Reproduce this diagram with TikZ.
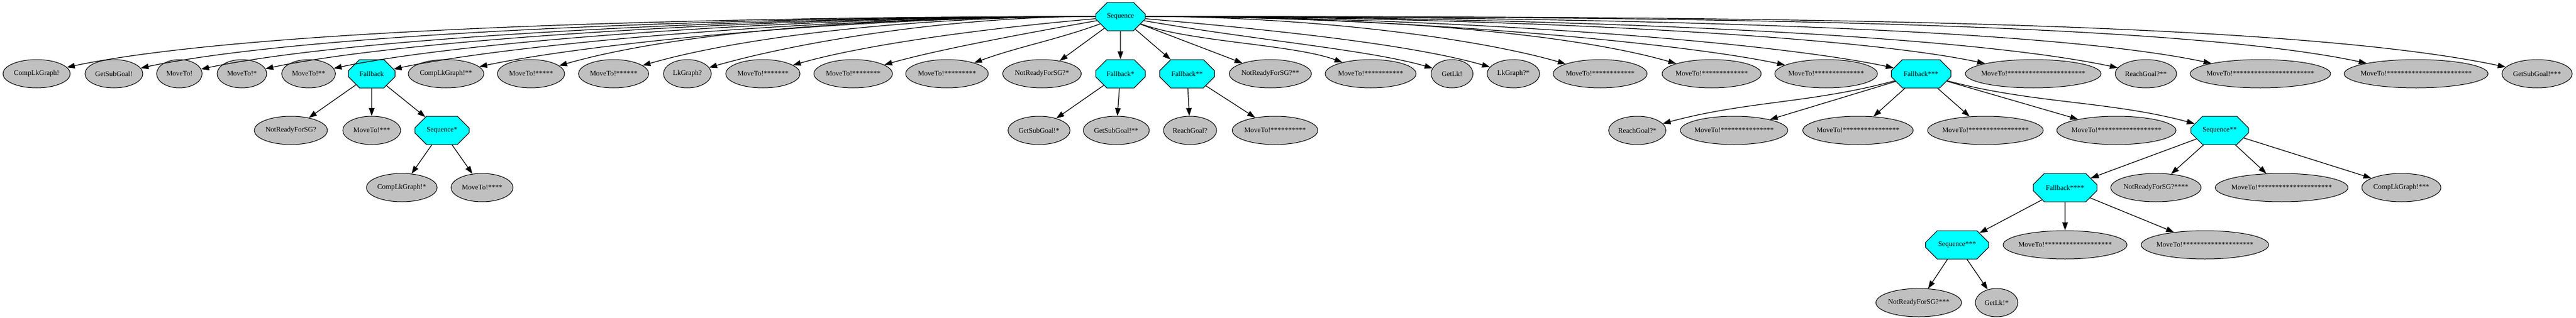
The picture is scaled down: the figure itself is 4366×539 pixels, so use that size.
\documentclass[tikz,border=0pt]{standalone}
\usepackage{fontspec}
\setmainfont{Liberation Serif}
\usetikzlibrary{shapes.geometric, shapes.misc, arrows.meta}
\definecolor{leafgray}{RGB}{192,192,192}
\definecolor{ctrlcyan}{RGB}{0,255,255}
\tikzset{
    link/.style={
        draw,
        ->,>={Triangle[length=10pt,width=7pt]},
        line width=0.9pt
    },
    every edge/.style={link},
    leaf/.style={ellipse, draw, fill=leafgray, line width=0.75pt,
        minimum height=36pt, inner xsep=-20pt, inner ysep=0pt,
        font=\fontsize{9}{10}\selectfont},
    ctrl/.style={chamfered rectangle, chamfered rectangle sep=11pt,
        draw, fill=ctrlcyan, line width=0.75pt,
        minimum height=36pt, inner sep=0pt,
        font=\fontsize{9}{10}\selectfont},
    wd/.style={minimum width=#1*0.75pt}
}

\begin{document}
\begin{tikzpicture}[x=0.75pt,y=-0.75pt]
	\useasboundingbox (0,0) rectangle (4366,539);
	% root
	\node[ctrl,wd=84] at (1899,28) (seq0) {Sequence};
	% first row
	\node[leaf,wd=114] at (62,125) (cg0) {CompLkGraph!};
	\node[leaf,wd=98] at (193,125) (gs0) {GetSubGoal!};
	\node[leaf,wd=77] at (304,125) (mv0) {MoveTo!};
	\node[leaf,wd=84] at (410,125) (mv1) {MoveTo!*};
	\node[leaf,wd=91] at (523,125) (mv2) {MoveTo!**};
	\node[ctrl,wd=79] at (630,125) (fb0) {Fallback};
	\node[leaf,wd=128] at (756,125) (cg2) {CompLkGraph!**};
	\node[leaf,wd=114] at (900,125) (mv5) {MoveTo!*****};
	\node[leaf,wd=119] at (1040,125) (mv6) {MoveTo!******};
	\node[leaf,wd=81] at (1165,125) (lk0) {LkGraph?};
	\node[leaf,wd=126] at (1293,125) (mv7) {MoveTo!*******};
	\node[leaf,wd=133] at (1446,125) (mv8) {MoveTo!********};
	\node[leaf,wd=140] at (1605,125) (mv9) {MoveTo!*********};
	\node[leaf,wd=133] at (1766,125) (nr1) {NotReadyForSG?*};
	\node[ctrl,wd=84] at (1899,125) (fb1) {Fallback*};
	\node[ctrl,wd=93] at (2012,125) (fb2) {Fallback**};
	\node[leaf,wd=139] at (2153,125) (nr2) {NotReadyForSG?**};
	\node[leaf,wd=154] at (2323,125) (mv11) {MoveTo!***********};
	\node[leaf,wd=71] at (2461,125) (gl0) {GetLk!};
	\node[leaf,wd=89] at (2565,125) (lk1) {LkGraph?*};
	\node[leaf,wd=159] at (2712,125) (mv12) {MoveTo!************};
	\node[leaf,wd=168] at (2901,125) (mv13) {MoveTo!*************};
	\node[leaf,wd=174] at (3095,125) (mv14) {MoveTo!**************};
	\node[ctrl,wd=101] at (3256,125) (fb3) {Fallback***};
	\node[leaf,wd=230] at (3446,125) (mv22) {MoveTo!**********************};
	\node[leaf,wd=104] at (3637,125) (rg2) {ReachGoal?**};
	\node[leaf,wd=238] at (3831,125) (mv23) {MoveTo!***********************};
	\node[leaf,wd=244] at (4095,125) (mv24) {MoveTo!************************};
	\node[leaf,wd=119] at (4300,125) (gs3) {GetSubGoal!***};
	% second row
	\node[leaf,wd=124] at (493,221) (nr0) {NotReadyForSG?};
	\node[leaf,wd=98] at (630,221) (mv3) {MoveTo!***};
	\node[ctrl,wd=92] at (749,221) (seq1) {Sequence*};
	\node[leaf,wd=105] at (1761,221) (gs1) {GetSubGoal!*};
	\node[leaf,wd=112] at (1892,221) (gs2) {GetSubGoal!**};
	\node[leaf,wd=90] at (2017,221) (rg0) {ReachGoal?};
	\node[leaf,wd=145] at (2161,221) (mv10) {MoveTo!**********};
	\node[leaf,wd=97] at (2775,221) (rg1) {ReachGoal?*};
	\node[leaf,wd=182] at (2939,221) (mv15) {MoveTo!***************};
	\node[leaf,wd=187] at (3149,221) (mv16) {MoveTo!****************};
	\node[leaf,wd=196] at (3365,221) (mv17) {MoveTo!*****************};
	\node[leaf,wd=202] at (3587,221) (mv18) {MoveTo!******************};
	\node[ctrl,wd=98] at (3762,221) (seq2) {Sequence**};
	% third row
	\node[leaf,wd=120] at (681,318) (cg1) {CompLkGraph!*};
	\node[leaf,wd=105] at (817,318) (mv4) {MoveTo!****};
	\node[ctrl,wd=108] at (3500,318) (fb4) {Fallback****};
	\node[leaf,wd=153] at (3654,318) (nr4) {NotReadyForSG?****};
	\node[leaf,wd=225] at (3867,318) (mv21) {MoveTo!*********************};
	\node[leaf,wd=134] at (4070,318) (cg3) {CompLkGraph!***};
	% fourth row
	\node[ctrl,wd=107] at (3317,415) (seq3) {Sequence***};
	\node[leaf,wd=210] at (3500,415) (mv19) {MoveTo!*******************};
	\node[leaf,wd=216] at (3737,415) (mv20) {MoveTo!********************};
	% fifth row
	\node[leaf,wd=145] at (3252,513) (nr3) {NotReadyForSG?***};
	\node[leaf,wd=72] at (3384,513) (gl1) {GetLk!*};
	% long curved links from the root
	\draw[link] (seq0.180) .. controls +(180:681) and +(-12:307) .. (cg0.12);
	\draw[link] (seq0.180) .. controls +(180:630) and +(-12:284) .. (gs0.12);
	\draw[link] (seq0.180) .. controls +(180:587) and +(-12:265) .. (mv0.12);
	\draw[link] (seq0.180) .. controls +(180:546) and +(-12:246) .. (mv1.12);
	\draw[link] (seq0.180) .. controls +(180:502) and +(-12:226) .. (mv2.12);
	\draw[link] (seq0.180) .. controls +(180:460) and +(-12:208) .. (fb0.12);
	\draw[link] (seq0.180) .. controls +(180:411) and +(-12:185) .. (cg2.12);
	\draw[link] (seq0.180) .. controls +(180:355) and +(-16:214) .. (mv5.16);
	\draw[link] (seq0.180) .. controls +(180:300) and +(-16:181) .. (mv6.16);
	\draw[link] (seq0.180) .. controls +(180:251) and +(-16:151) .. (lk0.16);
	\draw[link] (seq0.185) .. controls +(175:201) and +(-16:121) .. (mv7.16);
	\draw[link] (seq0.190) .. controls +(170:142) and +(-16:85) .. (mv8.16);
	\draw[link] (seq0.200) .. controls +(160:80) and +(-20:80) .. (mv9.22);
	\draw[link] (seq0.-20) .. controls +(20:90) and +(-160:90) .. (mv11.158);
	\draw[link] (seq0.-10) .. controls +(10:189) and +(-164:114) .. (gl0.164);
	\draw[link] (seq0.-5) .. controls +(5:228) and +(-164:137) .. (lk1.164);
	\draw[link] (seq0.0) .. controls +(0:271) and +(-164:164) .. (mv12.164);
	\draw[link] (seq0.0) .. controls +(0:343) and +(-164:207) .. (mv13.164);
	\draw[link] (seq0.0) .. controls +(0:417) and +(-168:188) .. (mv14.168);
	\draw[link] (seq0.0) .. controls +(0:494) and +(-168:223) .. (fb3.168);
	\draw[link] (seq0.0) .. controls +(0:543) and +(-168:245) .. (mv22.168);
	\draw[link] (seq0.0) .. controls +(0:642) and +(-168:290) .. (rg2.168);
	\draw[link] (seq0.0) .. controls +(0:692) and +(-168:312) .. (mv23.168);
	\draw[link] (seq0.0) .. controls +(0:794) and +(-168:358) .. (mv24.168);
	\draw[link] (seq0.0) .. controls +(0:897) and +(-168:405) .. (gs3.168);
	% bends under Fallback***
	\draw[link] (fb3.195) .. controls +(165:150) and +(-15:150) .. (rg1.15);
	\draw[link] (fb3.-15) .. controls +(15:150) and +(-165:150) .. (seq2.165);
	\draw
	(seq0) edge (nr1)
	(seq0) edge (fb1)
	(seq0) edge (fb2)
	(seq0) edge (nr2)
	(fb0) edge (nr0)
	(fb0) edge (mv3)
	(fb0) edge (seq1)
	(seq1) edge (cg1)
	(seq1) edge (mv4)
	(fb1) edge (gs1)
	(fb1) edge (gs2)
	(fb2) edge (rg0)
	(fb2) edge (mv10)
	(fb3) edge (mv15)
	(fb3) edge (mv16)
	(fb3) edge (mv17)
	(fb3) edge (mv18)
	(seq2) edge (fb4)
	(seq2) edge (nr4)
	(seq2) edge (mv21)
	(seq2) edge (cg3)
	(fb4) edge (seq3)
	(fb4) edge (mv19)
	(fb4) edge (mv20)
	(seq3) edge (nr3)
	(seq3) edge (gl1);
\end{tikzpicture}
\end{document}
